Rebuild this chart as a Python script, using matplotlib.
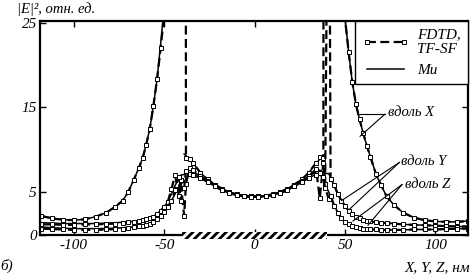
import numpy as np
import matplotlib
matplotlib.use("Agg")
import matplotlib.pyplot as plt
import matplotlib.transforms as mtransforms
from matplotlib.patches import Rectangle

plt.rcParams['font.family'] = ['Liberation Serif', 'DejaVu Serif']
plt.rcParams['font.style'] = 'italic'
plt.rcParams['hatch.linewidth'] = 2.0
plt.rcParams['axes.unicode_minus'] = False

# ---- grid along the axis (nm) ----
x_left = [-118, -112, -106, -100, -94, -88, -82, -77, -73, -70, -67, -64,
          -62, -60, -58, -56, -54, -52, -50, -48, -46, -44, -42, -41]
x_in = [-39, -38, -36, -34, -30, -26, -22, -18, -14, -10, -6, -2,
        2, 6, 10, 14, 18, 22, 26, 30, 34, 36, 38, 39]
x_right = [41, 42, 44, 46, 48, 50, 52, 54, 56, 58, 60, 62,
           64, 67, 70, 73, 77, 82, 88, 94, 100, 106, 112, 118]

# ---- Mie, along X ----
mie_x_left = [2.2, 1.95, 1.75, 1.7, 1.8, 2.1, 2.6, 3.3, 4.0, 5.0, 6.4, 7.9,
              9.0, 10.6, 12.5, 15.2, 18.3, 22.5, 27, 33, 41, 52, 70, 85]
mie_x_in = [9.5, 9.3, 8.9, 8.4, 7.3, 6.5, 5.9, 5.4, 5.0, 4.75, 4.6, 4.5,
            4.5, 4.6, 4.75, 5.0, 5.4, 5.9, 6.5, 7.3, 8.4, 8.9, 9.3, 9.5]
mie_x_right = [85, 70, 52, 40, 31, 25.5, 21.5, 18.0, 15.4, 13.6, 12.0, 10.5,
               9.2, 7.2, 5.8, 4.5, 3.5, 2.6, 2.0, 1.7, 1.55, 1.5, 1.5, 1.6]

# ---- Mie, along Y ----
mie_y_left = [1.4, 1.35, 1.3, 1.3, 1.3, 1.3, 1.35, 1.4, 1.45, 1.5, 1.55, 1.6,
              1.7, 1.8, 1.95, 2.1, 2.4, 2.8, 3.3, 3.9, 4.8, 5.8, 6.6, 7.0]
mie_y_in = [7.1, 7.4, 7.6, 7.4, 6.9, 6.3, 5.8, 5.3, 5.0, 4.7, 4.55, 4.5,
            4.5, 4.55, 4.7, 5.0, 5.3, 5.8, 6.3, 6.9, 7.4, 7.6, 7.4, 7.2]
mie_y_right = [7.2, 6.7, 5.8, 4.8, 4.0, 3.4, 2.8, 2.4, 2.1, 1.9, 1.75, 1.65,
               1.55, 1.45, 1.4, 1.35, 1.3, 1.2, 1.15, 1.1, 1.05, 1.0, 0.95, 0.95]

# ---- Mie, along Z ----
mie_z_left = [0.9, 0.8, 0.75, 0.7, 0.7, 0.7, 0.72, 0.75, 0.8, 0.85, 0.9, 1.0,
              1.05, 1.15, 1.3, 1.5, 1.8, 2.2, 2.7, 3.3, 4.0, 4.8, 5.6, 6.0]
mie_z_in = [6.2, 6.6, 7.1, 7.1, 6.7, 6.2, 5.7, 5.2, 4.9, 4.65, 4.5, 4.45,
            4.45, 4.5, 4.65, 4.9, 5.2, 5.7, 6.2, 6.7, 7.1, 7.1, 6.6, 6.0]
mie_z_right = [5.0, 4.4, 3.4, 2.6, 1.9, 1.5, 1.2, 1.0, 0.85, 0.75, 0.7, 0.65,
               0.6, 0.6, 0.55, 0.55, 0.55, 0.55, 0.6, 0.6, 0.6, 0.65, 0.7, 0.7]

# ---- FDTD, TF-SF ----
fdtd_x = [2.2, 1.9, 1.75, 1.7, 1.8, 2.1, 2.6, 3.3, 4.0, 5.0, 6.4, 7.9,
          9.0, 10.6, 12.5, 15.2, 18.3, 22.0, 26, 33, 41, 52, 70, 85,
          300, 9.0, 8.9, 8.4, 7.3, 6.5, 5.9, 5.4, 5.0, 4.75, 4.6, 4.5,
          4.5, 4.6, 4.75, 5.0, 5.4, 5.9, 6.5, 7.3, 8.5, 9.1, 9.0, 300,
          85, 70, 52, 40, 31, 25.5, 21.5, 18.0, 15.4, 13.6, 12.0, 10.5,
          9.2, 7.2, 5.8, 4.5, 3.5, 2.6, 2.0, 1.7, 1.55, 1.5, 1.5, 1.6]
fdtd_y = [1.2, 1.2, 1.15, 1.15, 1.2, 1.2, 1.25, 1.3, 1.4, 1.45, 1.5, 1.6,
          1.7, 1.8, 1.95, 2.1, 2.4, 2.8, 3.3, 3.9, 5.4, 7.0, 4.6, 6.4,
          2.2, 6.0, 7.8, 7.6, 6.9, 6.3, 5.8, 5.3, 5.0, 4.7, 4.55, 4.5,
          4.5, 4.55, 4.7, 5.0, 5.3, 5.8, 6.3, 6.9, 7.7, 4.3, 8.5, 6.0,
          60, 6.5, 5.8, 4.8, 4.0, 3.4, 2.8, 2.4, 2.1, 1.9, 1.75, 1.65,
          1.55, 1.45, 1.4, 1.35, 1.3, 1.2, 1.15, 1.1, 1.05, 1.0, 0.95, 0.95]
fdtd_z = [0.7, 0.65, 0.6, 0.55, 0.55, 0.55, 0.6, 0.65, 0.7, 0.8, 0.9, 1.0,
          1.05, 1.15, 1.3, 1.5, 1.8, 2.2, 2.7, 3.3, 4.0, 5.2, 6.8, 4.0,
          5.5, 7.5, 7.2, 7.0, 6.7, 6.2, 5.7, 5.2, 4.9, 4.65, 4.5, 4.45,
          4.45, 4.5, 4.65, 4.9, 5.2, 5.7, 6.2, 6.7, 7.0, 7.3, 6.8, 5.5,
          4.2, 4.6, 3.4, 2.6, 1.9, 1.5, 1.2, 1.0, 0.85, 0.75, 0.7, 0.65,
          0.6, 0.6, 0.55, 0.55, 0.55, 0.55, 0.6, 0.6, 0.6, 0.65, 0.7, 0.7]

x_all = x_left + x_in + x_right

fig = plt.figure(figsize=(4.71, 2.76), dpi=100)
ax = fig.add_axes([0.0839, 0.1486, 0.9097, 0.7753])

# Mie (solid)
for seg_x, seg_y in [(x_left, mie_x_left), (x_in, mie_x_in), (x_right, mie_x_right)]:
    mie_line, = ax.plot(seg_x, seg_y, color='black', lw=1.1)
ax.plot(x_all, mie_y_left + mie_y_in + mie_y_right, color='black', lw=1.1)
ax.plot(x_all, mie_z_left + mie_z_in + mie_z_right, color='black', lw=1.1)

# FDTD (dashed with squares)
fkw = dict(color='black', lw=1.6, dashes=(4, 2), marker='s', ms=2.8,
           mfc='white', mec='black', mew=0.7)
fdtd_line, = ax.plot(x_all, fdtd_x, **fkw)
ax.plot(x_all, fdtd_y, **fkw)
ax.plot(x_all, fdtd_z, **fkw)

ax.set_xlim(-119, 118)
ax.set_ylim(-0.05, 25.2)
ax.set_xticks([-100, -50, 0, 50, 100])
ax.set_yticks([0, 5, 15, 25])
ax.tick_params(direction='in', length=4, width=1, top=True, right=True,
               labelsize=11, pad=3)
ax.tick_params(axis='y', pad=2)
for sp in ax.spines.values():
    sp.set_linewidth(1.6)

# particle (hatched bar)
trans = mtransforms.blended_transform_factory(ax.transData, ax.transAxes)
ax.add_patch(Rectangle((-40, -0.018), 80, 0.034, transform=trans,
                       facecolor='white', edgecolor='black', hatch='////',
                       lw=0, clip_on=False, zorder=5))

# legend
leg = ax.legend([fdtd_line, mie_line], ['FDTD,\nTF-SF', 'Mи'],
                loc='upper right', borderaxespad=0, fancybox=False,
                edgecolor='black', framealpha=1, fontsize=11,
                handlelength=3.0, numpoints=2, labelspacing=0.5,
                borderpad=0.45, handletextpad=0.6)
leg.get_frame().set_linewidth(1.0)

# annotations
akw = dict(color='black', lw=0.8)
ax.plot([72, 56.6], [14.2, 14.2], **akw)
ax.plot([72, 58.3], [14.2, 11.6], **akw)
ax.text(73.5, 14.4, 'вдоль X', fontsize=10.5, va='center', ha='left')
ax.plot([80, 48.0], [8.5, 4.0], **akw)
ax.plot([80, 52.5], [8.5, 3.0], **akw)
ax.text(81, 8.6, 'вдоль Y', fontsize=10.5, va='center', ha='left')
ax.plot([81.5, 54.4], [5.9, 1.6], **akw)
ax.plot([81.5, 62.7], [5.9, 1.1], **akw)
ax.text(83, 5.9, 'вдоль Z', fontsize=10.5, va='center', ha='left')

fig.text(17 / 471, 1 - 9 / 276, '|E|², отн. ед.', fontsize=10.5,
         va='center', ha='left')
fig.text(0.0, 1 - 266 / 276, 'б)', fontsize=11, va='center', ha='left')
fig.text(470 / 471, 1 - 268 / 276, 'X, Y, Z, нм', fontsize=11,
         va='center', ha='right')

fig.savefig('out.png', dpi=100)
